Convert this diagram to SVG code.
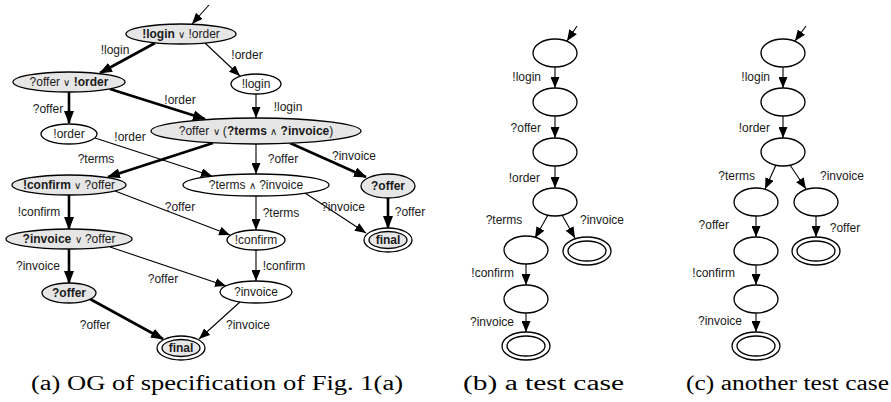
<svg xmlns="http://www.w3.org/2000/svg" width="891" height="402" viewBox="0 0 891 402">
  <style>
    .n { fill: #ffffff; stroke: #000; stroke-width: 1.3; }
    .g { fill: #e6e6e6; stroke: #000; stroke-width: 1.3; }
    .t { font-family: "Liberation Sans", Arial, sans-serif; font-size: 12px; fill: #1a1a1a; text-anchor: middle; dominant-baseline: central; }
    .e { text-anchor: end; }
    .b { font-weight: bold; }
    .op { font-size: 10px; }
    .thin { stroke: #000; stroke-width: 1.1; fill: none; marker-end: url(#ah); }
    .thick { stroke: #000; stroke-width: 2.6; fill: none; marker-end: url(#ahT); }
    .cap { font-family: "Liberation Serif", "Times New Roman", serif; font-size: 20px; fill: #000; }
  </style>
  <defs>
    <marker id="ah" markerUnits="userSpaceOnUse" markerWidth="11" markerHeight="9" refX="11" refY="4.5" orient="auto">
      <path d="M0,0 L11,4.5 L0,9 z" fill="#000"/>
    </marker>
    <marker id="ahT" markerUnits="userSpaceOnUse" markerWidth="13" markerHeight="10" refX="12" refY="5" orient="auto">
      <path d="M0,0 L13,5 L0,10 z" fill="#000"/>
    </marker>
  </defs>

  <!-- (a) operating guideline -->
  <g id="connectors-a">
    <line class="thin" x1="209" y1="5" x2="192" y2="24"/>
    <line class="thick" x1="155" y1="43" x2="100" y2="73"/>
    <line class="thin" x1="205" y1="43" x2="240" y2="76"/>
    <line class="thick" x1="69" y1="92" x2="69" y2="123"/>
    <line class="thick" x1="110" y1="89" x2="205" y2="119"/>
    <line class="thin" x1="256" y1="94" x2="256" y2="118"/>
    <line class="thick" x1="213" y1="143" x2="108" y2="177"/>
    <line class="thin" x1="95" y1="138" x2="212" y2="176"/>
    <line class="thin" x1="256" y1="144" x2="256" y2="174"/>
    <line class="thick" x1="290" y1="143" x2="366" y2="177"/>
    <line class="thick" x1="69" y1="195" x2="69" y2="229"/>
    <line class="thin" x1="115" y1="191" x2="230" y2="235"/>
    <line class="thin" x1="256" y1="196" x2="256" y2="230"/>
    <line class="thin" x1="305" y1="193" x2="366" y2="233"/>
    <line class="thick" x1="388" y1="198" x2="388" y2="228"/>
    <line class="thick" x1="69" y1="249" x2="69" y2="283"/>
    <line class="thin" x1="110" y1="247" x2="226" y2="286"/>
    <line class="thin" x1="256" y1="250" x2="256" y2="281"/>
    <line class="thick" x1="90" y1="299" x2="163" y2="339"/>
    <line class="thin" x1="240" y1="302" x2="199" y2="339"/>

    <text class="t" x="115" y="50">!login</text>
    <text class="t" x="247" y="55">!order</text>
    <text class="t" x="48" y="109">?offer</text>
    <text class="t" x="180" y="100">!order</text>
    <text class="t" x="288" y="107">!login</text>
    <text class="t" x="96" y="159">?terms</text>
    <text class="t" x="130" y="137">!order</text>
    <text class="t" x="283" y="159">?offer</text>
    <text class="t" x="354" y="156">?invoice</text>
    <text class="t" x="39" y="212">!confirm</text>
    <text class="t" x="180" y="207">?offer</text>
    <text class="t" x="281" y="213">?terms</text>
    <text class="t" x="343" y="207">?invoice</text>
    <text class="t" x="410" y="212">?offer</text>
    <text class="t" x="38" y="266">?invoice</text>
    <text class="t" x="163" y="279">?offer</text>
    <text class="t" x="284" y="266">!confirm</text>
    <text class="t" x="95" y="325">?offer</text>
    <text class="t" x="248" y="325">?invoice</text>
  </g>

  <g id="a-n0">
    <ellipse class="g" cx="181" cy="34" rx="55" ry="10"/>
    <text class="t" x="181" y="34"><tspan class="b">!login</tspan> <tspan class="op">∨</tspan> !order</text>
  </g>
  <g id="a-n1">
    <ellipse class="g" cx="69" cy="82" rx="56" ry="10"/>
    <text class="t" x="69" y="82">?offer <tspan class="op">∨</tspan> <tspan class="b">!order</tspan></text>
  </g>
  <g id="a-n2">
    <ellipse class="n" cx="256" cy="84" rx="25" ry="10"/>
    <text class="t" x="256" y="84">!login</text>
  </g>
  <g id="a-n3">
    <ellipse class="n" cx="69" cy="134" rx="28" ry="10"/>
    <text class="t" x="69" y="134">!order</text>
  </g>
  <g id="a-n4">
    <ellipse class="g" cx="256" cy="131" rx="105" ry="13"/>
    <text class="t" x="256" y="131">?offer <tspan class="op">∨</tspan> (<tspan class="b">?terms</tspan> <tspan class="op">∧</tspan> <tspan class="b">?invoice</tspan>)</text>
  </g>
  <g id="a-n5">
    <ellipse class="n" cx="256" cy="185" rx="73" ry="11"/>
    <text class="t" x="256" y="185">?terms <tspan class="op">∧</tspan> ?invoice</text>
  </g>
  <g id="a-n6">
    <ellipse class="g" cx="388" cy="186" rx="27" ry="12"/>
    <text class="t b" x="388" y="186">?offer</text>
  </g>
  <g id="a-n7">
    <ellipse class="g" cx="69" cy="185" rx="57" ry="10"/>
    <text class="t" x="69" y="185"><tspan class="b">!confirm</tspan> <tspan class="op">∨</tspan> ?offer</text>
  </g>
  <g id="a-n8">
    <ellipse class="n" cx="256" cy="240" rx="29" ry="10"/>
    <text class="t" x="256" y="240">!confirm</text>
  </g>
  <g id="a-n9">
    <ellipse class="n" cx="388" cy="240" rx="24" ry="12"/>
    <ellipse class="g" cx="388" cy="240" rx="19" ry="8.5"/>
    <text class="t b" x="388" y="240">final</text>
  </g>
  <g id="a-n10">
    <ellipse class="g" cx="69" cy="239" rx="63" ry="10"/>
    <text class="t" x="69" y="239"><tspan class="b">?invoice</tspan> <tspan class="op">∨</tspan> ?offer</text>
  </g>
  <g id="a-n11">
    <ellipse class="n" cx="256" cy="292" rx="36" ry="11"/>
    <text class="t" x="256" y="292">?invoice</text>
  </g>
  <g id="a-n12">
    <ellipse class="g" cx="69" cy="293" rx="27" ry="10"/>
    <text class="t b" x="69" y="293">?offer</text>
  </g>
  <g id="a-n13">
    <ellipse class="n" cx="181" cy="348" rx="24" ry="12"/>
    <ellipse class="g" cx="181" cy="348" rx="19" ry="8.5"/>
    <text class="t b" x="181" y="348">final</text>
  </g>

  <!-- (b) a test case -->
  <g id="connectors-b">
    <line class="thin" x1="577" y1="26" x2="567" y2="41"/>
    <line class="thin" x1="555" y1="67" x2="555" y2="88"/>
    <line class="thin" x1="555" y1="116" x2="555" y2="138"/>
    <line class="thin" x1="555" y1="166" x2="555" y2="188"/>
    <line class="thin" x1="548" y1="215" x2="535" y2="238"/>
    <line class="thin" x1="562" y1="215" x2="575" y2="238"/>
    <line class="thin" x1="526" y1="264" x2="526" y2="285"/>
    <line class="thin" x1="526" y1="313" x2="526" y2="332"/>
    <text class="t e" x="541" y="77">!login</text>
    <text class="t e" x="541" y="128">?offer</text>
    <text class="t e" x="540" y="178">!order</text>
    <text class="t" x="504" y="220">?terms</text>
    <text class="t" x="602" y="220">?invoice</text>
    <text class="t e" x="514" y="273">!confirm</text>
    <text class="t e" x="514" y="322">?invoice</text>
  </g>
  <g id="b-n0"><ellipse class="n" cx="555" cy="53" rx="22" ry="14"/></g>
  <g id="b-n1"><ellipse class="n" cx="555" cy="102" rx="22" ry="14"/></g>
  <g id="b-n2"><ellipse class="n" cx="555" cy="152" rx="22" ry="14"/></g>
  <g id="b-n3"><ellipse class="n" cx="555" cy="202" rx="22" ry="14"/></g>
  <g id="b-n4"><ellipse class="n" cx="526" cy="250" rx="22" ry="14"/></g>
  <g id="b-n5">
    <ellipse class="n" cx="587" cy="251" rx="24" ry="14"/>
    <ellipse class="n" cx="587" cy="251" rx="19" ry="10"/>
  </g>
  <g id="b-n6"><ellipse class="n" cx="526" cy="299" rx="22" ry="14"/></g>
  <g id="b-n7">
    <ellipse class="n" cx="526" cy="346" rx="24" ry="14"/>
    <ellipse class="n" cx="526" cy="346" rx="19" ry="10"/>
  </g>

  <!-- (c) another test case -->
  <g id="connectors-c">
    <line class="thin" x1="806" y1="26" x2="795" y2="41"/>
    <line class="thin" x1="783" y1="67" x2="783" y2="88"/>
    <line class="thin" x1="783" y1="116" x2="783" y2="138"/>
    <line class="thin" x1="776" y1="165" x2="765" y2="189"/>
    <line class="thin" x1="790" y1="165" x2="806" y2="189"/>
    <line class="thin" x1="756" y1="216" x2="756" y2="237"/>
    <line class="thin" x1="816" y1="216" x2="816" y2="237"/>
    <line class="thin" x1="756" y1="265" x2="756" y2="285"/>
    <line class="thin" x1="756" y1="313" x2="756" y2="332"/>
    <text class="t e" x="770" y="77">!login</text>
    <text class="t e" x="770" y="128">!order</text>
    <text class="t e" x="755" y="176">?terms</text>
    <text class="t" x="842" y="176">?invoice</text>
    <text class="t e" x="729" y="225">?offer</text>
    <text class="t" x="845" y="228">?offer</text>
    <text class="t e" x="735" y="273">!confirm</text>
    <text class="t e" x="742" y="321">?invoice</text>
  </g>
  <g id="c-n0"><ellipse class="n" cx="783" cy="53" rx="22" ry="14"/></g>
  <g id="c-n1"><ellipse class="n" cx="783" cy="102" rx="22" ry="14"/></g>
  <g id="c-n2"><ellipse class="n" cx="783" cy="152" rx="22" ry="14"/></g>
  <g id="c-n3"><ellipse class="n" cx="756" cy="202" rx="22" ry="14"/></g>
  <g id="c-n4"><ellipse class="n" cx="816" cy="202" rx="22" ry="14"/></g>
  <g id="c-n5"><ellipse class="n" cx="756" cy="251" rx="22" ry="14"/></g>
  <g id="c-n6">
    <ellipse class="n" cx="816" cy="251" rx="24" ry="14"/>
    <ellipse class="n" cx="816" cy="251" rx="19" ry="10"/>
  </g>
  <g id="c-n7"><ellipse class="n" cx="756" cy="299" rx="22" ry="14"/></g>
  <g id="c-n8">
    <ellipse class="n" cx="756" cy="346" rx="24" ry="14"/>
    <ellipse class="n" cx="756" cy="346" rx="19" ry="10"/>
  </g>

  <!-- captions -->
  <text class="cap" x="31" y="390" textLength="372" lengthAdjust="spacingAndGlyphs">(a) OG of specification of Fig. 1(a)</text>
  <text class="cap" x="463" y="390" textLength="161" lengthAdjust="spacingAndGlyphs">(b) a test case</text>
  <text class="cap" x="686" y="390" textLength="203" lengthAdjust="spacingAndGlyphs">(c) another test case</text>
</svg>
